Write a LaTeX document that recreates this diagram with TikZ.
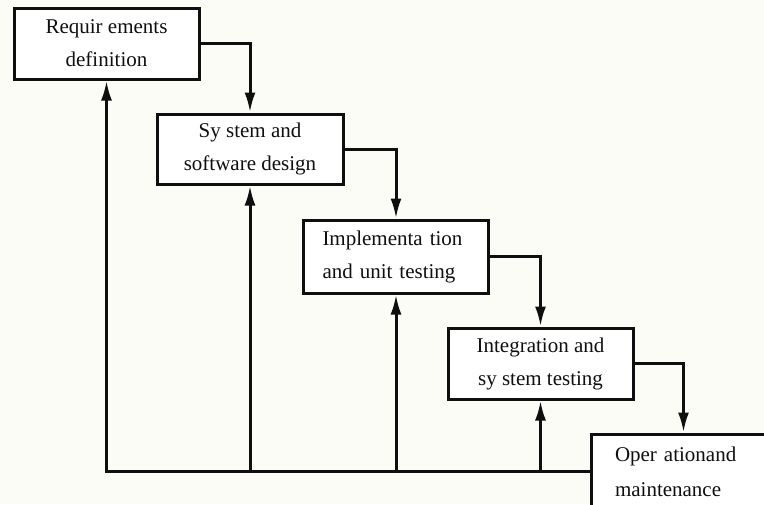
\documentclass[tikz,border=0pt]{standalone}
\usepackage{fontspec}
\setmainfont{Liberation Serif}
\usetikzlibrary{arrows.meta}
\definecolor{paper}{RGB}{252,252,246}
\definecolor{ink}{RGB}{15,15,15}
\tikzset{
  phase/.style={draw=ink, line width=3pt, fill=white, rectangle,
    minimum width=185pt, minimum height=71pt, inner sep=0pt,
    font=\fontsize{21}{33}\selectfont, text=ink, align=center},
  leftphase/.style={phase, align=left, inner xsep=#1, text width=185pt-2*#1},
  flow/.style={draw=ink, line width=3pt, -{Latex[length=20pt,width=11pt]}},
  feedback/.style={flow}
}
\begin{document}
\begin{tikzpicture}[x=1pt,y=-1pt]
  \clip (0,0) rectangle (764,504);
  \fill[paper] (0,0) rectangle (764,504);

  % waterfall phases
  \node[phase] (req) at (106.5,43.5) {Requir ements\\definition};
  \node[phase, minimum width=186pt, minimum height=70pt] (des) at (250,149) {Sy stem and\\software design};
  \node[leftphase=19pt, minimum height=73pt] (imp) at (396,256.5) {Implementa tion\\and unit testing};
  \node[phase] (int) at (540.5,363.5) {Integration and\\sy stem testing};
  \node[leftphase=24pt, minimum height=75pt, font=\fontsize{21}{35}\selectfont] (ops) at (683.5,471.5) {Oper ationand\\maintenance};

  % forward flow between phases
  \draw[flow] (req.east) -| (des.north);
  \draw[flow] (des.east) -| (imp.north);
  \draw[flow] (imp.east) -| (int.north);
  \draw[flow] (int.east) -| (ops.north);

  % feedback rail returning to earlier phases
  \draw[feedback] (ops.west) -| (req.south);
  \draw[feedback] (des.south |- ops.west) -- (des.south);
  \draw[feedback] (imp.south |- ops.west) -- (imp.south);
  \draw[feedback] (int.south |- ops.west) -- (int.south);
\end{tikzpicture}
\end{document}
